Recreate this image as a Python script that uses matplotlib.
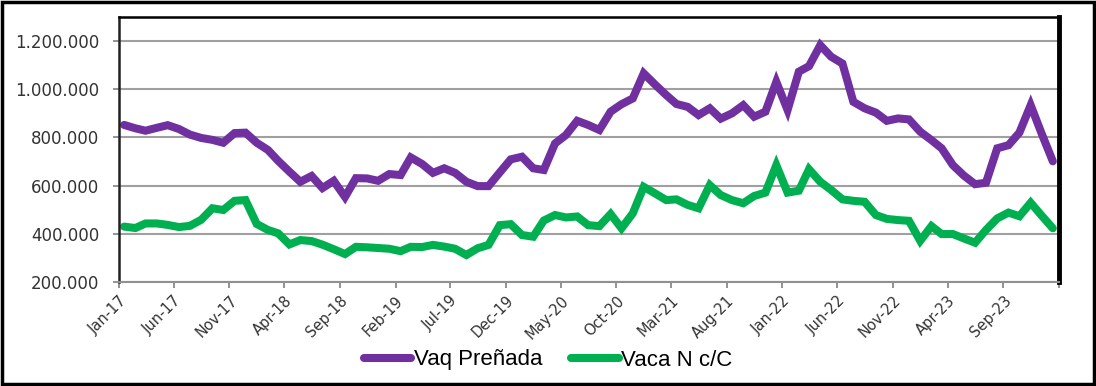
import numpy as np
import pandas as pd
import matplotlib
matplotlib.use("Agg")
import matplotlib.pyplot as plt
from matplotlib.patches import Rectangle

#%% datos (miles de $), mensual ene-2017 a ene-2024
vaq_prenada = [852, 838, 828, 840, 851, 835, 812, 798, 790, 778,
               818, 820, 778, 748, 703, 658, 616, 640, 590, 620,
               553, 631, 630, 620, 648, 644, 717, 690, 653, 672,
               653, 616, 598, 598, 655, 709, 720, 672, 665, 775,
               810, 869, 852, 831, 907, 938, 962, 1066, 1020, 976,
               939, 927, 893, 921, 878, 900, 934, 886, 907, 1031,
               914, 1073, 1096, 1183, 1135, 1107, 948, 921, 903, 869,
               879, 875, 824, 789, 755, 685, 642, 606, 612, 755,
               768, 820, 934, 817, 701]

vaca_nc = [430, 424, 443, 443, 437, 428, 433, 458, 506, 499,
           537, 540, 441, 416, 402, 356, 374, 370, 355, 336,
           316, 346, 344, 341, 338, 328, 346, 345, 354, 347,
           338, 312, 340, 354, 436, 440, 395, 388, 455, 478,
           468, 472, 436, 432, 482, 423, 485, 595, 568, 540,
           543, 520, 506, 602, 561, 540, 527, 557, 571, 685,
           571, 579, 668, 616, 582, 543, 537, 533, 478, 462,
           457, 454, 371, 432, 399, 399, 381, 363, 416, 464,
           488, 473, 529, 476, 423]

series = ['Vaq Preñada', 'Vaca N c/C']
colores = ['#7030A0', '#00B050']

fechas = pd.date_range('2017-01-01', periods=len(vaq_prenada), freq='MS') + pd.Timedelta(days=14)
ticks_x = pd.date_range('2017-01-01', '2024-02-01', freq='5MS')
ticks_y = [200000, 400000, 600000, 800000, 1000000, 1200000]

#%% gráfico
fig = plt.figure(figsize=(10.96, 3.86), dpi=100)
ax = fig.add_axes([119/1096, 1 - 282/386, (1059 - 119)/1096, (282 - 17)/386])

for nombre, vals, col in zip(series, [vaq_prenada, vaca_nc], colores):
    ax.plot(fechas, np.array(vals) * 1000, color=col, lw=5.8, label=nombre,
            solid_joinstyle='miter', solid_capstyle='round')

ax.set_xlim(ticks_x[0], ticks_x[-1])
ax.set_ylim(200000, 1300000)
ax.set_yticks(ticks_y)
ax.set_yticklabels(['{:,.0f}'.format(v).replace(',', '.') for v in ticks_y],
                   fontsize=12, color='#333333')
ax.set_xticks(ticks_x)
etiquetas = [d.strftime('%b-%y') for d in ticks_x]
etiquetas[-1] = ''
ax.set_xticklabels(etiquetas, rotation=45, ha='right', rotation_mode='anchor',
                   fontsize=10.5, color='#333333')
ax.tick_params(axis='both', length=4, width=1.2, color='#808080')
ax.tick_params(axis='y', pad=10)
ax.tick_params(axis='x', pad=4)

ax.grid(axis='y', color='#A0A0A0', lw=1.5)
ax.set_axisbelow(True)
ax.spines['left'].set_linewidth(1.8)
ax.spines['left'].set_color('#202020')
ax.spines['top'].set_linewidth(1.8)
ax.spines['right'].set_linewidth(3.5)
ax.spines['bottom'].set_color('#909090')
ax.spines['bottom'].set_linewidth(1.5)

fig.legend(loc='center', bbox_to_anchor=(0.5, 1 - 360/386), ncol=2, frameon=False,
           prop={'family': 'Liberation Sans', 'size': 16}, handlelength=2.15,
           handletextpad=0.1, columnspacing=1.3)

# marco exterior
fig.patches.append(Rectangle((0.0015, 0.004), 0.997, 0.992, transform=fig.transFigure,
                             fill=False, edgecolor='black', lw=2.5))

fig.savefig('out.png', dpi=100)
